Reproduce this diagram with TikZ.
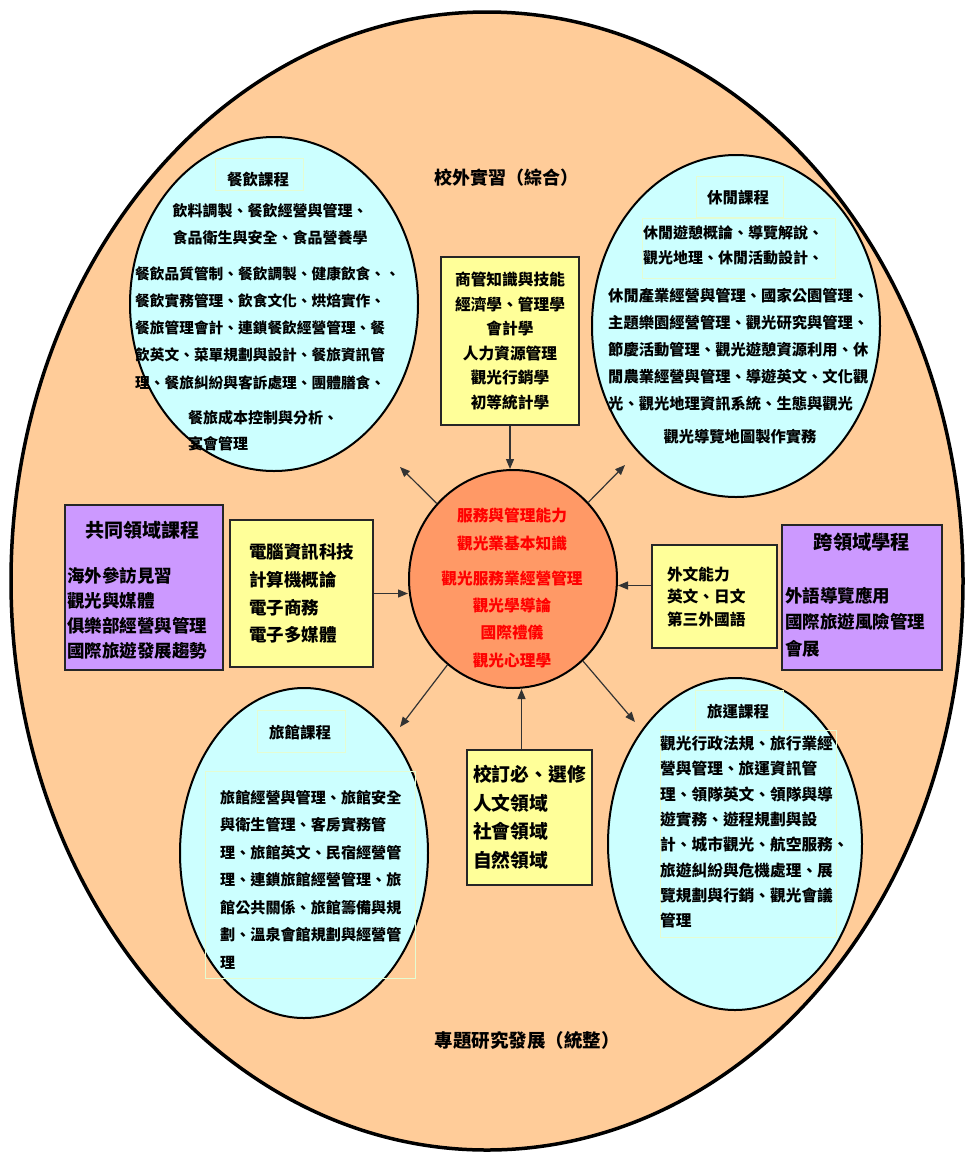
\documentclass[tikz,border=0pt]{standalone}
\usepackage{fontspec}
\setmainfont{Noto Sans CJK TC}
\usetikzlibrary{shapes.geometric,arrows.meta}
\definecolor{peach}{HTML}{FFCC99}
\definecolor{aqua}{HTML}{CCFFFF}
\definecolor{coral}{HTML}{FF9966}
\definecolor{lemon}{HTML}{FFFF99}
\definecolor{lilac}{HTML}{CC99FF}
\definecolor{pale}{HTML}{E4FCD2}
\newcommand{\txtsize}[2]{\fontsize{#1}{#2}\selectfont\bfseries}
\tikzset{
  bigoval/.style={ellipse, draw, line width=3.5pt, fill=peach, inner sep=0pt, minimum width=952, minimum height=1138},
  course/.style={ellipse, draw, line width=2pt, fill=aqua, inner sep=0pt},
  core/.style={ellipse, draw, line width=2pt, fill=coral, inner sep=0pt, minimum width=208, minimum height=218},
  ybox/.style={draw=black!85, line width=2.5pt, fill=lemon, inner sep=0pt},
  pbox/.style={draw=black!85, line width=2.5pt, fill=lilac, inner sep=0pt},
  faint/.style={draw=pale, line width=0.8pt},
  txt/.style={inner sep=0pt, align=left},
  conn/.style={draw=black!80, line width=1.2pt, -{Triangle[length=10pt,width=8pt]}}
}
\begin{document}
\begin{tikzpicture}[x=1pt,y=-1pt]
\useasboundingbox (0,0) rectangle (967,1160);
\node[bigoval] (world) at (487,581) {};
\node[course, minimum width=288, minimum height=334] (food) at (274,304) {};
\node[course, minimum width=288, minimum height=342] (leisure) at (736,326) {};
\node[course, minimum width=248, minimum height=330] (hotel) at (304,853) {};
\node[course, minimum width=254, minimum height=332] (travel) at (735,844) {};
\node[core] (core) at (513,579) {};

\node[txt, font=\txtsize{18}{22}] (intern) at (506,178) {校外實習（綜合）};
\node[txt, font=\txtsize{18.5}{22}] (project) at (527,1040) {專題研究發展（統整）};

% 餐飲
\draw[faint] (215,158) rectangle (303,190);
\node[txt, font=\txtsize{15.5}{20}] (foodT) at (258,180) {餐飲課程};
\node[txt, align=center, anchor=north, font=\txtsize{15}{27}] (foodA) at (270,203) {飲料調製、餐飲經營與管理、\\食品衛生與安全、食品營養學};
\node[txt, anchor=north west, font=\txtsize{14.7}{27.3}] (foodB) at (135,266) {餐飲品質管制、餐飲調製、健康飲食、、\\餐飲實務管理、飲食文化、烘焙實作、\\餐旅管理會計、連鎖餐飲經營管理、餐\\飲英文、菜單規劃與設計、餐旅資訊管\\理、餐旅糾紛與客訴處理、團體膳食、};
\node[txt, anchor=north west, font=\txtsize{15}{26}] (foodC) at (188,410) {餐旅成本控制與分析、\\宴會管理};

% 休閒
\draw[faint] (696,176) rectangle (783,217);
\draw[faint] (642,218) rectangle (835,278);
\node[txt, font=\txtsize{15.5}{20}] (leisureT) at (738,198) {休閒課程};
\node[txt, anchor=north west, font=\txtsize{15}{25}] (leisureA) at (643,225) {休閒遊憩概論、導覽解說、\\觀光地理、休閒活動設計、};
\node[txt, anchor=north west, font=\txtsize{15.3}{27}] (leisureB) at (608,288) {休閒產業經營與管理、國家公園管理、\\主題樂園經營管理、觀光研究與管理、\\節慶活動管理、觀光遊憩資源利用、休\\閒農業經營與管理、導遊英文、文化觀\\光、觀光地理資訊系統、生態與觀光};
\node[txt, font=\txtsize{15.3}{20}] (leisureC) at (740,437) {觀光導覽地圖製作實務};

% 旅館
\draw[faint] (257,710) rectangle (345,752);
\draw[faint] (205,771) rectangle (415,978);
\node[txt, font=\txtsize{15.5}{20}] (hotelT) at (300,732) {旅館課程};
\node[txt, anchor=north west, font=\txtsize{15.1}{27.5}] (hotelA) at (220,790) {旅館經營與管理、旅館安全\\與衛生管理、客房實務管\\理、旅館英文、民宿經營管\\理、連鎖旅館經營管理、旅\\館公共關係、旅館籌備與規\\劃、溫泉會館規劃與經營管\\理};

% 旅運
\draw[faint] (695,690) rectangle (783,730);
\draw[faint] (660,730) rectangle (836,937);
\node[txt, font=\txtsize{15.5}{20}] (travelT) at (738,712) {旅運課程};
\node[txt, anchor=north west, font=\txtsize{15.7}{25.3}] (travelA) at (660,736) {觀光行政法規、旅行業經\\營與管理、旅運資訊管\\理、領隊英文、領隊與導\\遊實務、遊程規劃與設\\計、城市觀光、航空服務、\\旅遊糾紛與危機處理、展\\覽規劃與行銷、觀光會議\\管理};

% 核心
\node[txt, align=center, anchor=north, text=red, font=\txtsize{15.7}{27.3}] (coreT) at (512,508) {服務與管理能力\\觀光業基本知識\\[8pt]觀光服務業經營管理\\觀光學導論\\國際禮儀\\觀光心理學};

% 方框
\node[ybox, minimum width=138, minimum height=168, align=center, font=\txtsize{15.7}{24.6}] (bizbox) at (510,341) {商管知識與技能\\經濟學、管理學\\會計學\\人力資源管理\\觀光行銷學\\初等統計學};
\node[ybox, minimum width=143, minimum height=147, align=left, font=\txtsize{17.5}{27.7}] (itbox) at (301.5,593.5) {電腦資訊科技\\計算機概論\\電子商務\\電子多媒體};
\node[ybox, minimum width=125, minimum height=103, text width=95, align=left, font=\txtsize{15.7}{22.5}] (langbox) at (714.5,596.5) {外文能力\\英文、日文\\第三外國語};
\node[ybox, minimum width=125, minimum height=135, align=left, font=\txtsize{18.8}{28.5}] (schoolbox) at (529.5,817.5) {校訂必、選修\\人文領域\\社會領域\\自然領域};

\node[pbox, minimum width=158, minimum height=165] (commonbox) at (144,587.5) {};
\node[txt, font=\txtsize{19}{22}] (commonT) at (142,530) {共同領域課程};
\node[txt, anchor=north west, font=\txtsize{17.5}{25}] (commonA) at (67,567) {海外參訪見習\\觀光與媒體\\俱樂部經營與管理\\國際旅遊發展趨勢};

\node[pbox, minimum width=160, minimum height=145] (crossbox) at (862,597.5) {};
\node[txt, font=\txtsize{19.3}{22}] (crossT) at (862,542) {跨領域學程};
\node[txt, anchor=north west, font=\txtsize{17.5}{26.5}] (crossA) at (785,587) {外語導覽應用\\國際旅遊風險管理\\會展};

% 箭頭
\coordinate (nwEnd) at (400,467);
\coordinate (neEnd) at (625,465);
\coordinate (swEnd) at (400,727);
\coordinate (seEnd) at (635,722);
\draw[conn] (core) -- (nwEnd);
\draw[conn] (core) -- (neEnd);
\draw[conn] (core) -- (swEnd);
\draw[conn] (core) -- (seEnd);
\draw[conn] (bizbox.south) -- (bizbox.south |- core.north);
\draw[conn] (itbox.east) -- (itbox.east -| core.west);
\draw[conn] ([yshift=11pt]langbox.west) -- ([yshift=11pt]langbox.west -| core.east);
\draw[conn] ([xshift=-8pt]schoolbox.north) -- ([xshift=-8pt]schoolbox.north |- core.south);
\end{tikzpicture}
\end{document}
